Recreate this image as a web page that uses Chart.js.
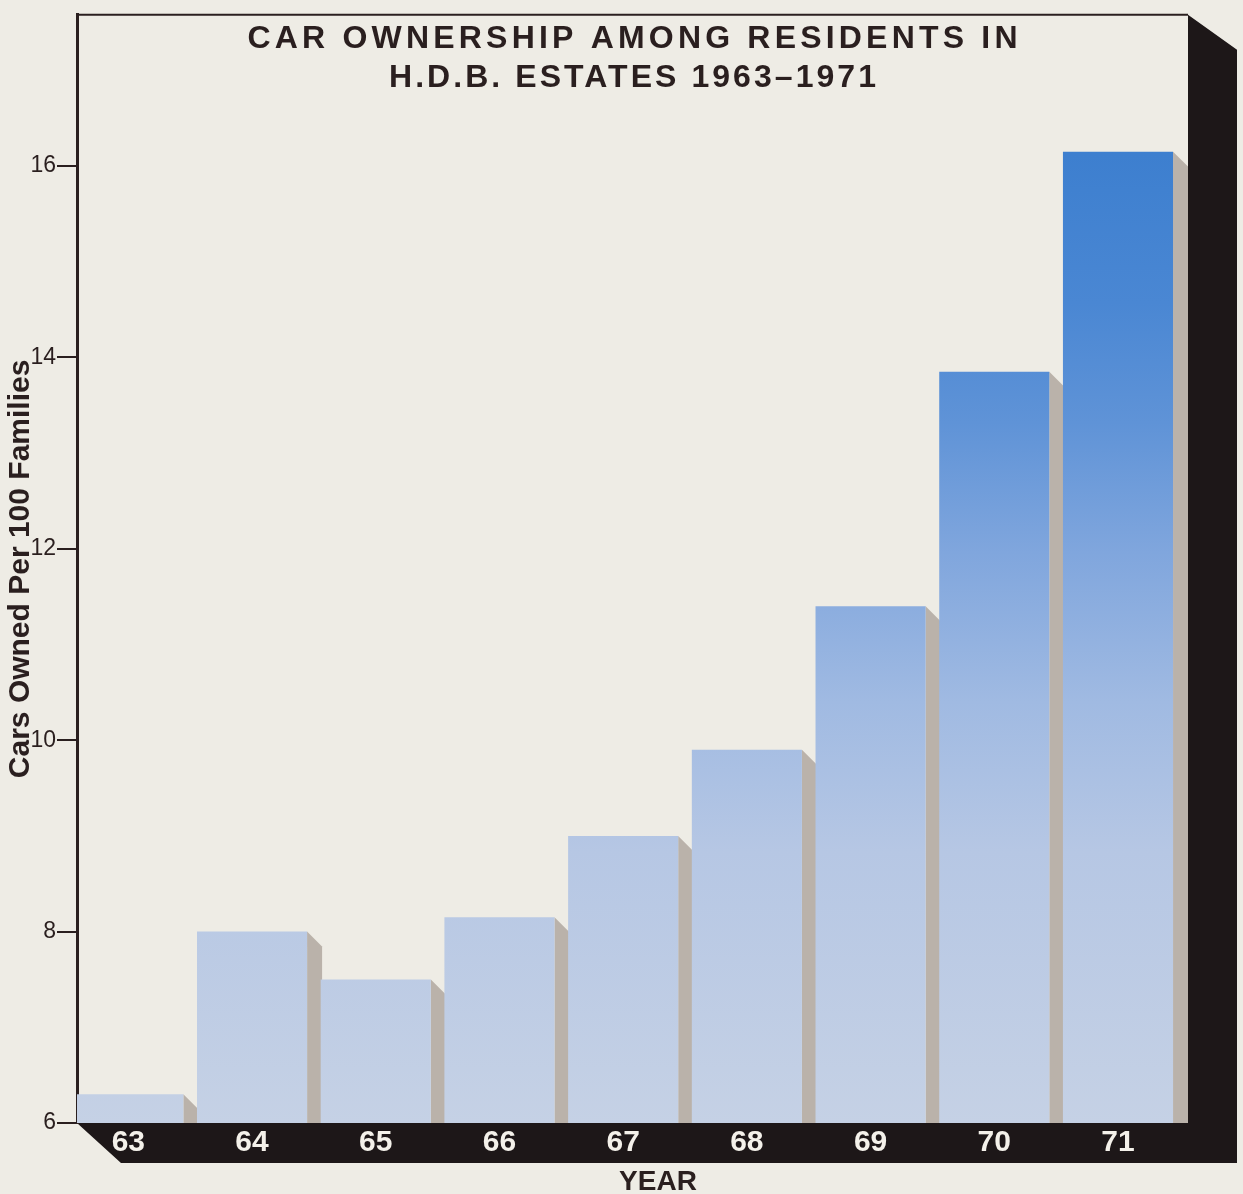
<!DOCTYPE html>
<html>
<head>
<meta charset="utf-8">
<title>Car Ownership Among Residents in H.D.B. Estates 1963-1971</title>
<script src="https://cdn.jsdelivr.net/npm/chart.js@4.4.1/dist/chart.umd.min.js"></script>
<style>
  html, body { margin: 0; padding: 0; background: #eeece5; }
  #wrap { width: 1243px; height: 1194px; position: relative; }
</style>
</head>
<body>
<div id="wrap"><canvas id="chart"></canvas></div>
<script>
// Chart data
const years = ['63', '64', '65', '66', '67', '68', '69', '70', '71'];
const carsPer100 = [6.3, 8.0, 7.5, 8.15, 9.0, 9.9, 11.4, 13.85, 16.15];
const yTicks = [6, 8, 10, 12, 14, 16];
const titleLines = ['CAR OWNERSHIP AMONG RESIDENTS IN', 'H.D.B. ESTATES 1963\u20131971'];
const yTitle = 'Cars Owned Per 100 Families';
const xTitle = 'YEAR';

// Colours
const PAPER = '#eeece5';
const INK = '#2a1f1f';
const BLACK = '#1d1718';
const SHADOW = '#bab2aa';
const FONT = '"Liberation Sans", Arial, Helvetica, sans-serif';

Chart.defaults.font.family = FONT;

function barGradient(chart) {
    const { ctx, chartArea } = chart;
    if (!chartArea) return '#c5d1e5';
    const g = ctx.createLinearGradient(0, chartArea.bottom, 0, chartArea.top);
    g.addColorStop(0, '#c5d1e5');
    g.addColorStop(0.245, '#b6c7e4');
    g.addColorStop(0.38, '#a0bae2');
    g.addColorStop(0.515, '#80a6dd');
    g.addColorStop(0.632, '#5f93d7');
    g.addColorStop(0.74, '#4a87d3');
    g.addColorStop(0.874, '#3d7fcf');
    g.addColorStop(1, '#3a7dce');
    return g;
}

// Paper, black base / side panel and top frame line
const paperAndFrame = {
    id: 'paperAndFrame',
    beforeDraw(chart) {
        const { ctx, chartArea: a, width, height } = chart;
        ctx.save();
        ctx.fillStyle = PAPER;
        ctx.fillRect(0, 0, width, height);

        ctx.fillStyle = BLACK;
        ctx.beginPath();
        ctx.moveTo(a.right, a.top);
        ctx.lineTo(a.right + 49, a.top + 35);
        ctx.lineTo(a.right + 49, a.bottom + 40);
        ctx.lineTo(a.left + 44, a.bottom + 40);
        ctx.lineTo(a.left, a.bottom);
        ctx.lineTo(a.right, a.bottom);
        ctx.closePath();
        ctx.fill();

        ctx.strokeStyle = INK;
        ctx.lineWidth = 2;
        ctx.beginPath();
        ctx.moveTo(a.left, a.top);
        ctx.lineTo(a.right, a.top);
        ctx.stroke();
        ctx.restore();
    }
};

// Grey side shadow to the right of each bar
const barShadows = {
    id: 'barShadows',
    beforeDatasetsDraw(chart) {
        const { ctx, chartArea: a } = chart;
        const depth = 15;
        ctx.save();
        ctx.beginPath();
        ctx.rect(a.left, a.top, a.right - a.left, a.bottom - a.top);
        ctx.clip();
        ctx.fillStyle = SHADOW;
        chart.getDatasetMeta(0).data.forEach(bar => {
            const p = bar.getProps(['x', 'y', 'base', 'width'], true);
            const right = p.x + p.width / 2;
            ctx.beginPath();
            ctx.moveTo(right, p.y);
            ctx.lineTo(right + depth, p.y + depth);
            ctx.lineTo(right + depth, p.base);
            ctx.lineTo(right, p.base);
            ctx.closePath();
            ctx.fill();
        });
        ctx.restore();
    }
};

function spacedText(ctx, text, cx, y, targetWidth) {
    ctx.letterSpacing = '0px';
    const natural = ctx.measureText(text).width;
    const spacing = Math.max(0, (targetWidth - natural) / (text.length - 1));
    ctx.letterSpacing = spacing + 'px';
    ctx.fillText(text, cx + spacing / 2, y);
    ctx.letterSpacing = '0px';
}

// Title inside the frame and the YEAR caption under the base
const captions = {
    id: 'captions',
    afterDraw(chart) {
        const { ctx, chartArea: a } = chart;
        const cx = (a.left + a.right) / 2;
        ctx.save();
        ctx.fillStyle = INK;
        ctx.textAlign = 'center';
        ctx.textBaseline = 'alphabetic';
        ctx.font = 'bold 32px ' + FONT;
        spacedText(ctx, titleLines[0], cx, 48, 770);
        spacedText(ctx, titleLines[1], cx, 87, 487);
        ctx.font = 'bold 28px ' + FONT;
        ctx.fillText(xTitle, 658, 1190);
        ctx.restore();
    }
};

document.addEventListener('DOMContentLoaded', function() {
    new Chart(document.getElementById('chart'), {
        type: 'bar',
        data: {
            datasets: [{
                data: years.map((y, i) => ({ x: Number(y), y: carsPer100[i] })),
                backgroundColor: ctx => barGradient(ctx.chart),
                borderWidth: 0,
                barPercentage: 1,
                categoryPercentage: 0.89
            }]
        },
        options: {
            responsive: true,
            maintainAspectRatio: false,
            animation: false,
            layout: { padding: { top: 10, right: 55, left: 0, bottom: 0 } },
            plugins: {
                legend: { display: false },
                tooltip: { enabled: false }
            },
            scales: {
                x: {
                    type: 'linear',
                    offset: false,
                    min: 62.585,
                    max: 71.566,
                    afterBuildTicks: s => { s.ticks = years.map(y => ({ value: Number(y) })); },
                    afterFit: s => { s.height = 71; },
                    grid: { display: false, drawTicks: false, offset: false },
                    border: { display: false },
                    ticks: {
                        autoSkip: false,
                        maxRotation: 0,
                        color: '#f4f1ea',
                        padding: 2,
                        font: { size: 30, weight: 'bold' },
                        callback: v => String(v)
                    }
                },
                y: {
                    min: 6,
                    max: 17.58,
                    afterBuildTicks: s => { s.ticks = yTicks.map(v => ({ value: v })); },
                    afterFit: s => { s.width = 77; },
                    grid: { drawOnChartArea: false, drawTicks: true, tickLength: 20, color: INK, lineWidth: 2 },
                    border: { display: true, color: INK, width: 3 },
                    ticks: { color: INK, padding: 1, font: { size: 23 } },
                    title: {
                        display: true,
                        text: yTitle,
                        color: INK,
                        font: { size: 30, weight: 'bold' },
                        padding: { top: 3, bottom: 0 }
                    }
                }
            }
        },
        plugins: [paperAndFrame, barShadows, captions]
    });
});
</script>
</body>
</html>
